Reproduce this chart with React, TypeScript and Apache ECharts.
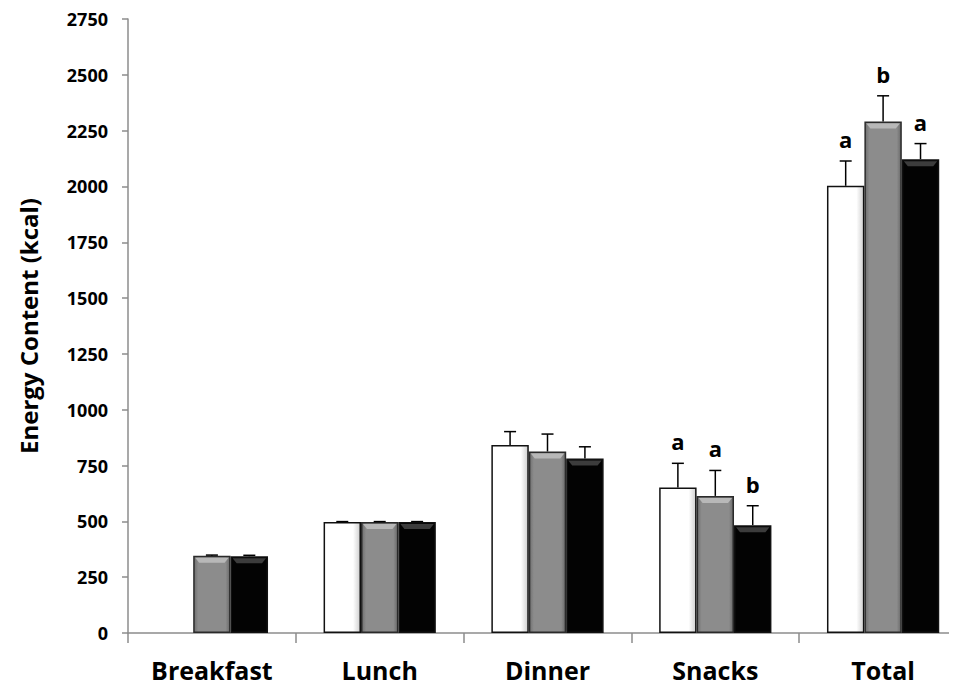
import React, { useEffect, useRef } from "react";
import * as echarts from "echarts";

const categories = ["Breakfast", "Lunch", "Dinner", "Snacks", "Total"];
const yTicks = [0, 250, 500, 750, 1000, 1250, 1500, 1750, 2000, 2250, 2500, 2750];

const whiteValues: (number | null)[] = [null, 497, 842, 652, 2003];
const grayValues: (number | null)[] = [346, 497, 813, 614, 2291];
const blackValues: (number | null)[] = [344, 497, 782, 483, 2122];

const whiteErrors: (number | null)[] = [null, 2, 60, 108, 111];
const grayErrors: (number | null)[] = [3, 2, 78, 114, 115];
const blackErrors: (number | null)[] = [4, 2, 52, 87, 70];

const whiteLetters = ["", "", "", "a", "a"];
const grayLetters = ["", "", "", "a", "b"];
const blackLetters = ["", "", "", "b", "a"];

const BAR_FRAC = 0.223;
const FONT = "'Open Sans', 'Noto Sans', sans-serif";

export default function App() {
  const ref = useRef<HTMLDivElement>(null);
  useEffect(() => {
    if (!ref.current) return;
    const chart = echarts.init(ref.current, null, { renderer: "svg" });

    const seriesDefs = [
      {
        name: "white",
        values: whiteValues,
        errors: whiteErrors,
        letters: whiteLetters,
        color: new echarts.graphic.LinearGradient(0, 0, 1, 0, [
          { offset: 0, color: "#ffffff" },
          { offset: 0.8, color: "#ffffff" },
          { offset: 1, color: "#cfcfcf" },
        ]),
        border: "#111",
        band: null as string | null,
      },
      {
        name: "gray",
        values: grayValues,
        errors: grayErrors,
        letters: grayLetters,
        color: new echarts.graphic.LinearGradient(0, 0, 1, 0, [
          { offset: 0, color: "#6f6f6f" },
          { offset: 0.12, color: "#8c8c8c" },
          { offset: 0.88, color: "#8c8c8c" },
          { offset: 1, color: "#6a6a6a" },
        ]),
        border: "#2a2a2a",
        band: "#b8b8b8",
      },
      {
        name: "black",
        values: blackValues,
        errors: blackErrors,
        letters: blackLetters,
        color: "#030303",
        border: "#111",
        band: "#3c3c3c",
      },
    ];

    const barSeries = seriesDefs.map((d) => ({
      type: "bar",
      name: d.name,
      data: d.values.map((v) => (v === null ? "-" : v)),
      barWidth: BAR_FRAC * 100 + "%",
      barGap: "0%",
      itemStyle: { color: d.color, borderColor: d.border, borderWidth: 1.5 },
      z: 2,
    }));

    const errSeries = seriesDefs.map((d, s) => ({
      type: "custom",
      name: d.name + "-err",
      clip: false,
      z: 5,
      encode: { x: 0, y: 1 },
      data: d.values
        .map((v, i) => (v === null ? null : [i, v, d.errors[i] ?? 0]))
        .filter((x) => x !== null),
      renderItem: (params: any, api: any) => {
        const ci = api.value(0);
        const v = api.value(1);
        const e = api.value(2);
        const catW = api.size([1, 0])[0];
        const bw = catW * BAR_FRAC;
        const base = api.coord([ci, v]);
        const top = api.coord([ci, v + e]);
        const x = base[0] + (s - 1) * bw;
        const x0 = x - bw / 2;
        const x1 = x + bw / 2;
        const children: any[] = [];
        if (d.band) {
          children.push({
            type: "polygon",
            shape: {
              points: [
                [x0 + 2, base[1] + 2],
                [x1 - 2, base[1] + 2],
                [x1 - 6, base[1] + 7],
                [x0 + 6, base[1] + 7],
              ],
            },
            style: { fill: d.band },
          });
        }
        if (e > 0) {
          children.push({
            type: "line",
            shape: { x1: x, y1: base[1], x2: x, y2: top[1] },
            style: { stroke: "#000", lineWidth: 1.5 },
          });
          children.push({
            type: "line",
            shape: { x1: x - 6, y1: top[1], x2: x + 6, y2: top[1] },
            style: { stroke: "#000", lineWidth: 1.5 },
          });
        }
        const letter = d.letters[ci];
        if (letter) {
          children.push({
            type: "text",
            style: {
              text: letter,
              x: x,
              y: top[1] - 11,
              align: "center",
              verticalAlign: "bottom",
              font: "bold 22px " + FONT,
              fill: "#000",
            },
          });
        }
        return { type: "group", children };
      },
    }));

    chart.setOption({
      animation: false,
      backgroundColor: "#ffffff",
      grid: { left: 117, top: 11, height: 614, width: 842, containLabel: false },
      xAxis: {
        type: "category",
        data: categories,
        axisLine: { lineStyle: { color: "#8c8c8c", width: 1.5 } },
        axisTick: { show: true, length: 10, lineStyle: { color: "#8c8c8c", width: 1.5 } },
        axisLabel: {
          color: "#000",
          fontWeight: "bold",
          fontSize: 25,
          fontFamily: FONT,
          margin: 24,
          overflow: "none",
        },
        splitLine: { show: false },
      },
      yAxis: {
        type: "value",
        min: 0,
        max: yTicks[yTicks.length - 1],
        interval: 250,
        name: "Energy Content (kcal)",
        nameLocation: "middle",
        nameGap: 88,
        nameTextStyle: { color: "#000", fontWeight: "bold", fontSize: 24, fontFamily: FONT },
        axisLine: { show: true, lineStyle: { color: "#8c8c8c", width: 1.5 } },
        axisTick: { show: true, length: 6, lineStyle: { color: "#8c8c8c", width: 1.5 } },
        axisLabel: {
          color: "#000",
          fontWeight: "bold",
          fontSize: 18,
          fontFamily: FONT,
          margin: 20,
          formatter: (v: number) => String(v),
        },
        splitLine: { show: false },
      },
      series: [...barSeries, ...errSeries],
    });
    return () => chart.dispose();
  }, []);
  return (
    <div style={{ width: 941, height: 680, overflow: "hidden", position: "relative" }}>
      <div ref={ref} style={{ width: 1000, height: 680 }} />
    </div>
  );
}
